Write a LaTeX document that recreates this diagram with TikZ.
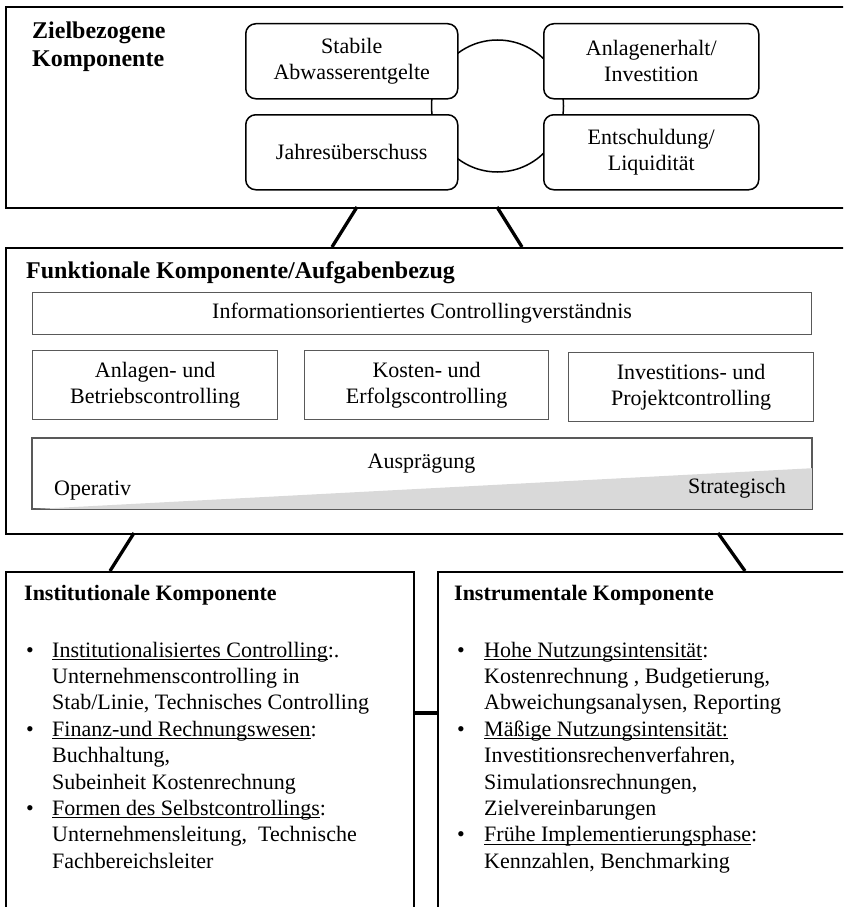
\documentclass[tikz,border=0pt]{standalone}
\usepackage{fontspec}
\setmainfont{Liberation Serif}
\usetikzlibrary{calc}
\newlength{\myulw}
\newcommand{\myul}[1]{\settowidth{\myulw}{#1}\rlap{\rule[-3pt]{\myulw}{1pt}}#1}
\begin{document}
\newcommand{\bodyfont}{\fontsize{22}{26.4}\selectfont}
\newcommand{\titlefont}{\fontsize{24}{28}\selectfont\bfseries}
\newcommand{\subtitlefont}{\fontsize{22}{26.4}\selectfont\bfseries}
\begin{tikzpicture}[x=1pt,y=-1pt,
  outer/.style={draw, line width=2pt, rectangle, anchor=north west, inner sep=0pt},
  goal/.style={draw, line width=1.5pt, rounded corners=10pt, fill=white, anchor=north west, inner sep=0pt, align=center, font=\bodyfont},
  task/.style={draw=black!65, line width=1.2pt, anchor=north west, inner sep=0pt, align=center, font=\bodyfont},
  link/.style={line width=3.3pt},
  txt/.style={inner sep=0pt, font=\bodyfont},
]
\useasboundingbox (0,0) rectangle (843,907);
\clip (0,0) rectangle (843,907);

% outer boxes
\node[outer, minimum width=870, minimum height=201] (top) at (5,6) {};
\node[outer, minimum width=870, minimum height=286] (mid) at (5,247) {};
\node[outer, minimum width=408, minimum height=400] (botL) at (5,571) {};
\node[outer, minimum width=430, minimum height=400] (botR) at (437,571) {};

% connectors between components
\coordinate (t1) at (357,207); \coordinate (m1) at (332,247);
\coordinate (t2) at (497,207); \coordinate (m2) at (522,247);
\coordinate (m3) at (134,533); \coordinate (b1) at (110,571);
\coordinate (m4) at (718,533); \coordinate (b2) at (745,571);
\coordinate (h) at (0,713);
\draw[link] (t1) -- (m1);
\draw[link] (t2) -- (m2);
\draw[link] (m3) -- (b1);
\draw[link] (m4) -- (b2);
\draw[link] (botL.east |- h) -- (botR.west |- h);

% top component
\node[inner sep=0pt, anchor=base west, font=\titlefont] (ttitle) at (32,39)
  {\begin{tabular}[t]{@{}l@{}}Zielbezogene\\Komponente\end{tabular}};
\node[circle, draw, line width=1.5pt, minimum size=132, inner sep=0pt] (ring) at (497.5,106) {};
\node[goal, minimum width=212, minimum height=75] (stab) at (245,23) {Stabile\\Abwasserentgelte};
\node[goal, minimum width=215, minimum height=75] (anl) at (543,23) {Anlagenerhalt/\\Investition};
\node[goal, minimum width=212, minimum height=75] (jahr) at (245,114) {Jahresüberschuss};
\node[goal, minimum width=215, minimum height=75] (ent) at (543,114) {Entschuldung/\\Liquidität};

% middle component
\node[inner sep=0pt, anchor=base west, font=\titlefont] (mtitle) at (26,278) {Funktionale Komponente/Aufgabenbezug};
\node[task, minimum width=779, minimum height=42] (info) at (32,292) {Informationsorientiertes Controllingverständnis};
\node[task, minimum width=245, minimum height=69] (ab) at (32,350) {Anlagen- und\\Betriebscontrolling};
\node[task, minimum width=244, minimum height=69] (ke) at (304,350) {Kosten- und\\Erfolgscontrolling};
\node[task, minimum width=245, minimum height=69] (ip) at (568,352) {Investitions- und\\Projektcontrolling};
\node[task, minimum width=779, minimum height=70] (aus) at (32,438) {};
\fill[black!15] (aus.south west) -- ($(aus.south east)+(0,-41)$) -- (aus.south east) -- cycle;
\draw[black!65, line width=1.2pt] (aus.south west) rectangle (aus.north east);
\node[txt, anchor=base] (ausl) at (421.5,468) {Ausprägung};
\node[txt, anchor=base west] (op) at (54,495) {Operativ};
\node[txt, anchor=base east] (st) at (786,493) {Strategisch};

% bottom left
\node[inner sep=0pt, anchor=base west, font=\subtitlefont] (ltitle) at (24,600) {Institutionale Komponente};
\node[txt, anchor=base west] (llist) at (26,657) {\begin{tabular}[t]{@{}p{26pt}@{}l@{}}
\textbullet & \myul{Institutionalisiertes Controlling}:. \\
 & Unternehmenscontrolling in \\
 & Stab/Linie, Technisches Controlling \\
\textbullet & \myul{Finanz-und Rechnungswesen}: \\
 & Buchhaltung, \\
 & Subeinheit Kostenrechnung \\
\textbullet & \myul{Formen des Selbstcontrollings}: \\
 & Unternehmensleitung,\ \ Technische \\
 & Fachbereichsleiter
\end{tabular}};

% bottom right
\node[inner sep=0pt, anchor=base west, font=\subtitlefont] (rtitle) at (454,600) {Instrumentale Komponente};
\node[txt, anchor=base west] (rlist) at (457,657) {\begin{tabular}[t]{@{}p{27pt}@{}l@{}}
\textbullet & \myul{Hohe Nutzungsintensität}: \\
 & Kostenrechnung , Budgetierung, \\
 & Abweichungsanalysen, Reporting \\
\textbullet & \myul{Mäßige Nutzungsintensität:} \\
 & Investitionsrechenverfahren, \\
 & Simulationsrechnungen, \\
 & Zielvereinbarungen \\
\textbullet & \myul{Frühe Implementierungsphase}: \\
 & Kennzahlen, Benchmarking
\end{tabular}};
\end{tikzpicture}
\end{document}
